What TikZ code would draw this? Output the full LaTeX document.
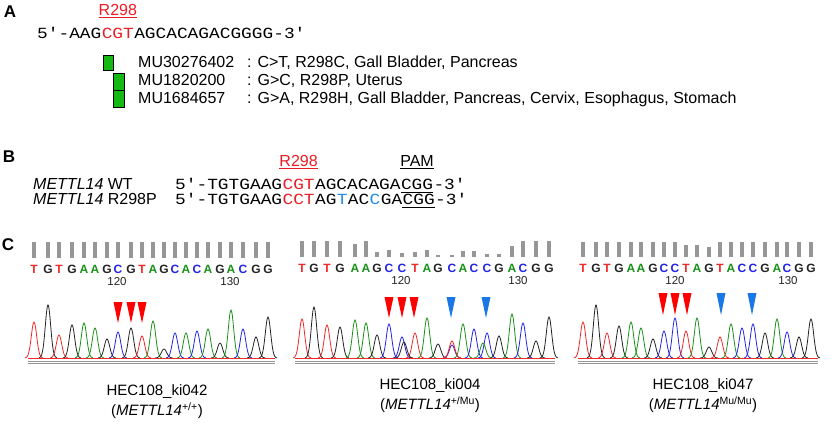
\documentclass[tikz,border=0pt]{standalone}
\usepackage{fontspec}
\setmainfont{Liberation Sans}
\newfontfamily\seqfont[FakeStretch=1.15]{Liberation Mono}
\usetikzlibrary{calc}

\definecolor{mutred}{RGB}{235,28,36}
\definecolor{mutblue}{RGB}{30,140,235}
\definecolor{mutgreen}{RGB}{20,185,20}
\definecolor{bargray}{RGB}{150,150,150}
\definecolor{colT}{RGB}{240,40,40}
\definecolor{colG}{RGB}{35,35,35}
\definecolor{colA}{RGB}{25,145,25}
\definecolor{colC}{RGB}{35,35,225}
\definecolor{triblue}{RGB}{25,120,230}

\begin{document}
\begin{tikzpicture}[x=1pt,y=-1pt,
  seq/.style={font=\seqfont\fontsize{15.5}{18}\selectfont,inner sep=0pt,anchor=base west},
  txt/.style={font=\fontsize{16}{18}\selectfont,inner sep=0pt,anchor=base west},
  lbl/.style={font=\fontsize{16}{18}\selectfont,inner sep=0pt,anchor=base},
  panel/.style={font=\bfseries\fontsize{17}{20}\selectfont,inner sep=0pt},
  mutbox/.style={draw=black,fill=mutgreen,line width=1pt,inner sep=0pt},
  basech/.style={font=\bfseries\fontsize{12}{13}\selectfont,inner sep=0pt,anchor=base},
  numlbl/.style={font=\fontsize{11.5}{13}\selectfont,inner sep=0pt,text=colG,anchor=base},
  trace/.style={line width=0.8pt,samples=25,smooth},
  redtri/.style={fill=red},
  bluetri/.style={fill=triblue},
  caplbl/.style={font=\fontsize{15}{18}\selectfont,inner sep=0pt}]
\useasboundingbox (0,0) rectangle (833,432);

% A
\node[panel] (labA) at (10,12) {A};
\node[seq] (seqA1) at (37,38) {5′-AAG};
\node[seq,text=mutred] (seqAm) at (seqA1.base east) {CGT};
\node[seq] (seqA2) at (seqAm.base east) {AGCACAGACGGGG-3′};
\node[lbl,text=mutred] (r298A) at ([yshift=23pt]seqAm.base) {R298};
\draw[mutred,line width=1.3pt] ([yshift=-2.5pt]r298A.base west) -- ([yshift=-2.5pt]r298A.base east);

\node[mutbox,minimum width=10pt,minimum height=15pt] (boxA1) at (108,62.5) {};
\node[mutbox,minimum width=11pt,minimum height=17pt] (boxA2) at (118.5,81.5) {};
\node[mutbox,minimum width=11pt,minimum height=17pt] (boxA3) at (118.5,98.5) {};

\foreach \id/\info [count=\i] in {MU30276402/{: C>T, R298C, Gall Bladder, Pancreas},
    MU1820200/{: G>C, R298P, Uterus},
    MU1684657/{: G>A, R298H, Gall Bladder, Pancreas, Cervix, Esophagus, Stomach}}{
  \node[txt] (mu\i) at (138,49.5+18*\i) {\id};
  \node[txt] (info\i) at (247,49.5+18*\i) {\info};
}

% B
\node[panel] (labB) at (9,157) {B};
\node[txt] (wtname) at (33,189) {\textit{METTL14} WT};
\node[txt] (muname) at (33,204) {\textit{METTL14} R298P};

\node[seq] (wt1) at (175,189) {5′-TGTGAAG};
\node[seq,text=mutred] (wtm) at (wt1.base east) {CGT};
\node[seq] (wt2) at (wtm.base east) {AGCACAGA};
\node[seq] (wtpam) at (wt2.base east) {CGG};
\node[seq] (wt3) at (wtpam.base east) {-3′};

\node[seq] (mu1) at (175,204) {5′-TGTGAAG};
\node[seq,text=mutred] (mum) at (mu1.base east) {CCT};
\node[seq] (mu2) at (mum.base east) {AG};
\node[seq,text=mutblue] (mub1) at (mu2.base east) {T};
\node[seq] (mu3) at (mub1.base east) {AC};
\node[seq,text=mutblue] (mub2) at (mu3.base east) {C};
\node[seq] (mu4) at (mub2.base east) {GA};
\node[seq] (mupam) at (mu4.base east) {CGG};
\node[seq] (mu5) at (mupam.base east) {-3′};

\node[lbl,text=mutred] (r298B) at ([yshift=23pt]wtm.base) {R298};
\node[lbl] (pam) at ([yshift=23pt]wtpam.base) {PAM};
\draw[mutred,line width=1.3pt] ([yshift=-2.5pt]r298B.base west) -- ([yshift=-2.5pt]r298B.base east);
\draw[line width=1.3pt] ([yshift=-2.5pt]pam.base west) -- ([yshift=-2.5pt]pam.base east);
\draw[line width=1.1pt] ([yshift=-3.5pt]wtpam.base west) -- ([yshift=-3.5pt]wtpam.base east);
\draw[line width=1.1pt] ([yshift=-3.5pt]mupam.base west) -- ([yshift=-3.5pt]mupam.base east);

% C
\node[panel] (labC) at (8,245) {C};

% ki042
\foreach \px/\ph/\b/\bh [count=\i] in {34/36/T/16,48/53/G/16,59/23/T/16,72/33/G/16,84/35/A/16,
    95/30/A/16,107/19/G/16,118/26/C/16,131/30/G/16,142/22/T/16,153/37/A/16,164/9/G/16,
    175/25/C/16,186/25/A/16,197/27/C/16,208/29/A/16,220/15/G/16,231/48/A/16,243/29/C/16,
    256/21/G/16,268/41/G/16}{
  \fill[bargray] (\px-1.7,258) rectangle (\px+1.7,258-\bh);
  \node[basech,text=col\b] (pa\i) at (\px,273) {\b};
  \draw[trace,draw=col\b] plot[domain=\px-9:\px+9] (\x,{358-\ph*exp(-((\x-\px)/3.8)^2)});
}
\node[numlbl] (pa120) at (117,285.5) {120};
\node[numlbl] (pa130) at (230,285.5) {130};
\draw[colT,line width=0.9pt] (28,358) -- (275,358);
\draw[bargray,line width=0.8pt] (28,361) -- (275,361) (28,363.5) -- (275,363.5);
\foreach \ax in {118,131,142}
  \fill[redtri] (\ax-4.5,302) -- (\ax+4.5,302) -- (\ax,323) -- cycle;

% ki004
\foreach \px/\ph/\b/\bh [count=\i] in {302/39/T/15.7,314/51/G/15.7,327/33/T/15.7,340/31/G/15.7,
    355/38/A/13.3,366/35/A/15.7,377/23/G/4.7,389/34/C/7.3,402/21/C/4,415/25/T/4.7,427/40/A/6.7,
    438/14/G/2.3,452/13/C/2.3,463/34/A/5.7,474/29/C/5.7,487/25/C/3.3,499/22/G/3.3,512/44/A/10.7,
    523/35/C/15.7,536/17/G/15.7,549/41/G/15.7}{
  \fill[bargray] (\px-1.7,257) rectangle (\px+1.7,257-\bh);
  \node[basech,text=col\b] (pb\i) at (\px,272) {\b};
  \draw[trace,draw=col\b] plot[domain=\px-9:\px+9] (\x,{358-\ph*exp(-((\x-\px)/3.8)^2)});
}
\foreach \px/\ph/\b in {404/16/G,452/17/T,483/15/A}
  \draw[trace,draw=col\b] plot[domain=\px-9:\px+9] (\x,{358-\ph*exp(-((\x-\px)/3.8)^2)});
\node[numlbl] (pb120) at (401,284.5) {120};
\node[numlbl] (pb130) at (518,284.5) {130};
\draw[colT,line width=0.9pt] (295,358) -- (555,358);
\draw[bargray,line width=0.8pt] (295,361) -- (555,361) (295,363.5) -- (555,363.5);
\foreach \ax in {389,402,414}
  \fill[redtri] (\ax-4.5,297) -- (\ax+4.5,297) -- (\ax,318) -- cycle;
\foreach \ax in {451,486}
  \fill[bluetri] (\ax-4.5,297) -- (\ax+4.5,297) -- (\ax,318) -- cycle;

% ki047
\foreach \px/\ph/\b/\bh [count=\i] in {583/36/T/14.7,596/53/G/14.7,607/25/T/14.7,619/32/G/14.7,
    631/36/A/14.7,641/30/A/14.7,653/19/G/14.7,664/27/C/14.7,675/40/C/14.7,686/27/T/12.3,
    697/40/A/12.3,709/11/G/10,720/21/T/14.7,731/34/A/14.7,742/30/C/14.7,753/34/C/14.7,
    765/25/G/14.7,777/39/A/14.7,787/26/C/14.7,799/21/G/14.7,811/39/G/14.7}{
  \fill[bargray] (\px-1.7,257) rectangle (\px+1.7,257-\bh);
  \node[basech,text=col\b] (pc\i) at (\px,272) {\b};
  \draw[trace,draw=col\b] plot[domain=\px-9:\px+9] (\x,{358-\ph*exp(-((\x-\px)/3.8)^2)});
}
\node[numlbl] (pc120) at (675,284.5) {120};
\node[numlbl] (pc130) at (788,284.5) {130};
\draw[colT,line width=0.9pt] (578,358) -- (818,358);
\draw[bargray,line width=0.8pt] (578,361) -- (818,361) (578,363.5) -- (818,363.5);
\foreach \ax in {663,675,687}
  \fill[redtri] (\ax-4.5,293) -- (\ax+4.5,293) -- (\ax,315) -- cycle;
\foreach \ax in {721,752}
  \fill[bluetri] (\ax-4.5,293) -- (\ax+4.5,293) -- (\ax,315) -- cycle;

\node[caplbl] (name1) at (157,392) {HEC108\_ki042};
\node[caplbl] (geno1) at (157,411) {(\textit{METTL14}\textsuperscript{+/+})};
\node[caplbl] (name2) at (430,386) {HEC108\_ki004};
\node[caplbl] (geno2) at (430,405) {(\textit{METTL14}\textsuperscript{+/Mu})};
\node[caplbl] (name3) at (703,386) {HEC108\_ki047};
\node[caplbl] (geno3) at (703,405) {(\textit{METTL14}\textsuperscript{Mu/Mu})};

\end{tikzpicture}
\end{document}
